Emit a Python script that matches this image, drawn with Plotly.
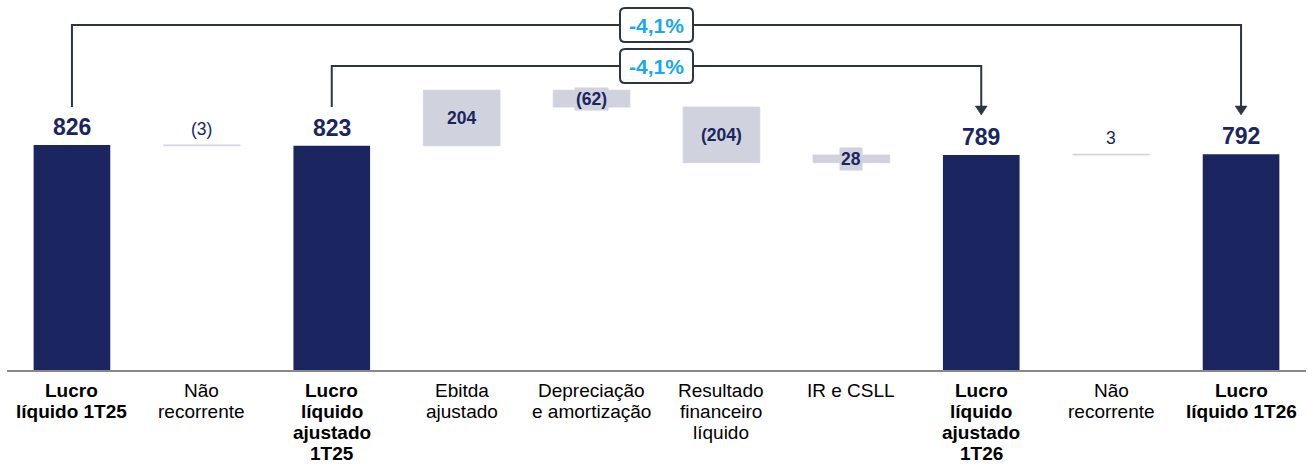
import plotly.graph_objects as go

# ---------------- data ----------------
categories = [
    "Lucro<br>líquido 1T25",
    "Não<br>recorrente",
    "Lucro<br>líquido<br>ajustado<br>1T25",
    "Ebitda<br>ajustado",
    "Depreciação<br>e amortização",
    "Resultado<br>financeiro<br>líquido",
    "IR e CSLL",
    "Lucro<br>líquido<br>ajustado<br>1T26",
    "Não<br>recorrente",
    "Lucro<br>líquido 1T26",
]
measures = ["absolute", "relative", "absolute", "relative", "relative",
            "relative", "relative", "absolute", "relative", "absolute"]
values = [826, -3, 823, 204, -62, -204, 28, 789, 3, 792]
label_modes = ["total", "above", "total", "inside", "inside",
               "inside", "inside", "total", "above", "total"]
comparisons = [(0, 9), (2, 7)]  # (from index, to index)

# ---------------- style ----------------
NAVY = "#1B2560"
LIGHT = "#D0D2DE"
LINE = "#2D3540"
BLUE = "#17A8F0"
FONT = "Arial, Liberation Sans, sans-serif"
H = 466
PLOT_H = 370
Y_MAX = 1358
PXU = PLOT_H / Y_MAX


def px_to_y(py):
    return (PLOT_H - py) / PXU


def fmt(v):
    return f"({abs(v)})" if v < 0 else f"{v}"


xs = list(range(len(categories)))

fig = go.Figure()
fig.add_trace(go.Waterfall(
    x=xs, y=values, measure=measures,
    width=0.59,
    increasing=dict(marker=dict(color=LIGHT, line=dict(color=LIGHT, width=0.8))),
    decreasing=dict(marker=dict(color=LIGHT, line=dict(color=LIGHT, width=0.8))),
    totals=dict(marker=dict(color=NAVY)),
    connector=dict(visible=False),
    textinfo="none",
    hoverinfo="skip",
))

# running totals for label placement
annotations = []
run = 0
for i, (m, v, mode) in enumerate(zip(measures, values, label_modes)):
    if m == "absolute":
        lo, hi = 0, v
        run = v
    else:
        lo, hi = sorted([run, run + v])
        run += v
    if mode == "total":
        annotations.append(dict(x=i, y=hi, yshift=18, text=f"<b>{v}</b>",
                                showarrow=False, yanchor="middle",
                                font=dict(family=FONT, size=23, color=NAVY)))
    elif mode == "above":
        annotations.append(dict(x=i, y=hi, yshift=16, text=fmt(v),
                                showarrow=False, yanchor="middle",
                                font=dict(family=FONT, size=17.5, color=NAVY)))
    else:
        annotations.append(dict(x=i, y=(lo + hi) / 2, text=f"<b>{fmt(v)}</b>",
                                showarrow=False, yanchor="middle",
                                bgcolor=LIGHT, borderpad=1,
                                font=dict(family=FONT, size=17.5, color=NAVY)))

# category labels, one annotation per line
for i, (cat, m) in enumerate(zip(categories, measures)):
    for k, line in enumerate(cat.split("<br>")):
        txt = f"<b>{line}</b>" if m == "absolute" else line
        annotations.append(dict(x=i, y=0, yshift=-(20.5 + 21 * k), text=txt,
                                showarrow=False, yanchor="middle",
                                borderpad=0,
                                font=dict(family=FONT, size=19, color="#000000")))

# comparison brackets
bracket_px = [25, 66]
start_px = 107
tip_px = 115
shapes = []
for (a, b), lpx in zip(comparisons, bracket_px):
    y_line = px_to_y(lpx)
    y_start = px_to_y(start_px)
    y_tip = px_to_y(tip_px)
    y_tip_base = px_to_y(tip_px - 8)
    shapes.append(dict(type="path", xref="x", yref="y",
                       path=f"M {a},{y_start} V {y_line} H {b} V {y_tip_base}",
                       line=dict(color=LINE, width=2)))
    shapes.append(dict(type="path", xref="x", yref="y",
                       xsizemode="pixel", ysizemode="pixel",
                       xanchor=b, yanchor=y_tip,
                       path="M -6,9 L 6,9 L 0,0 Z",
                       fillcolor=LINE, line=dict(color=LINE, width=0.5)))
    mid = (a + b) / 2
    shapes.append(dict(type="path", xref="x", yref="y",
                       xsizemode="pixel", ysizemode="pixel",
                       xanchor=mid, yanchor=y_line,
                       path=("M -31.5,-17 H 31.5 Q 36.5,-17 36.5,-12 V 12 "
                             "Q 36.5,17 31.5,17 H -31.5 Q -36.5,17 -36.5,12 "
                             "V -12 Q -36.5,-17 -31.5,-17 Z"),
                       fillcolor="white", line=dict(color=LINE, width=2)))
    pct = (values[b] - values[a]) / values[a] * 100
    txt = f"{pct:.1f}%".replace(".", ",")
    annotations.append(dict(x=mid, y=y_line, text=f"<b>{txt}</b>",
                            showarrow=False, yanchor="middle",
                            font=dict(family=FONT, size=21, color=BLUE)))

fig.update_layout(
    width=1308, height=H,
    margin=dict(l=7, r=2, t=0, b=H - PLOT_H),
    paper_bgcolor="white", plot_bgcolor="white",
    showlegend=False,
    xaxis=dict(range=[-0.5, len(categories) - 0.5], showticklabels=False,
               showgrid=False, zeroline=False, showline=True,
               linecolor="#888888", linewidth=2, ticks=""),
    yaxis=dict(range=[0, Y_MAX], visible=False, showgrid=False,
               zeroline=False),
    shapes=shapes,
    annotations=annotations,
)

fig.write_html("out.html",
               config={"displayModeBar": False, "staticPlot": True},
               post_script="document.body.style.margin='0';"
                           "document.body.style.overflow='hidden';")
